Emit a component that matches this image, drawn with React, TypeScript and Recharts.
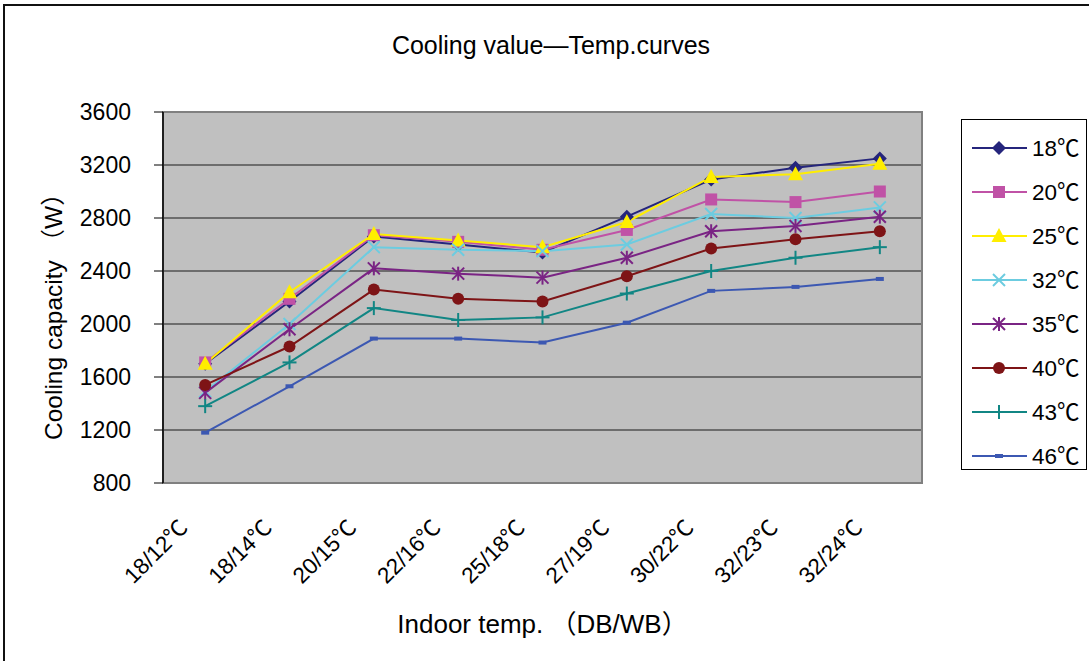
import React from 'react';
import { LineChart, Line, XAxis, YAxis, CartesianGrid, Legend, ReferenceArea } from 'recharts';

const categories = ['18/12℃', '18/14℃', '20/15℃', '22/16℃', '25/18℃', '27/19℃', '30/22℃', '32/23℃', '32/24℃'];
const s18 = [1700, 2170, 2660, 2600, 2540, 2810, 3090, 3180, 3250];
const s20 = [1710, 2190, 2670, 2620, 2560, 2710, 2940, 2920, 3000];
const s25 = [1700, 2240, 2680, 2630, 2580, 2770, 3110, 3130, 3210];
const s32 = [1490, 2000, 2580, 2560, 2550, 2600, 2830, 2800, 2880];
const s35 = [1480, 1960, 2420, 2380, 2350, 2500, 2700, 2740, 2810];
const s40 = [1540, 1830, 2260, 2190, 2170, 2360, 2570, 2640, 2700];
const s43 = [1380, 1710, 2120, 2030, 2050, 2230, 2400, 2500, 2580];
const s46 = [1180, 1530, 1890, 1890, 1860, 2010, 2250, 2280, 2340];
const yTicks = [800, 1200, 1600, 2000, 2400, 2800, 3200, 3600];
const seriesNames = ['18℃', '20℃', '25℃', '32℃', '35℃', '40℃', '43℃', '46℃'];
const seriesValues = [s18, s20, s25, s32, s35, s40, s43, s46];
const seriesColors = ['#25257C', '#C052A6', '#FFEE00', '#6CCCE0', '#7A2484', '#7E1416', '#118684', '#3C58B2'];
const seriesShapes = ['diamond', 'square', 'triangle', 'x', 'star', 'circle', 'plus', 'dash'];

const titleText = 'Cooling value—Temp.curves';
const xTitle = 'Indoor temp. （DB/WB）';
const yTitle = 'Cooling capacity （W）';

const xCenters = categories.map((_, i) => i + 0.5);
const xBounds = categories.map((_, i) => i).concat([categories.length]);

const rows = categories.map((c, i) => {
  const r: any = { x: xCenters[i], name: c };
  seriesValues.forEach((vals, k) => {
    r['s' + k] = vals[i];
  });
  return r;
});

const FONT = "'Liberation Sans', Arial, 'Noto Sans CJK SC', sans-serif";

function Marker({ cx, cy, shape, color }: { cx: number; cy: number; shape: string; color: string }) {
  if (cx == null || cy == null) return null;
  switch (shape) {
    case 'diamond':
      return <path d={`M${cx},${cy - 7} L${cx + 7},${cy} L${cx},${cy + 7} L${cx - 7},${cy} Z`} fill={color} />;
    case 'square':
      return <rect x={cx - 6} y={cy - 6} width={12} height={12} fill={color} />;
    case 'triangle':
      return <path d={`M${cx},${cy - 8} L${cx + 7.5},${cy + 6} L${cx - 7.5},${cy + 6} Z`} fill={color} />;
    case 'x':
      return (
        <g stroke={color} strokeWidth={2}>
          <line x1={cx - 6} y1={cy - 6} x2={cx + 6} y2={cy + 6} />
          <line x1={cx - 6} y1={cy + 6} x2={cx + 6} y2={cy - 6} />
        </g>
      );
    case 'star':
      return (
        <g stroke={color} strokeWidth={2}>
          <line x1={cx - 6} y1={cy - 6} x2={cx + 6} y2={cy + 6} />
          <line x1={cx - 6} y1={cy + 6} x2={cx + 6} y2={cy - 6} />
          <line x1={cx} y1={cy - 7} x2={cx} y2={cy + 7} />
        </g>
      );
    case 'circle':
      return <circle cx={cx} cy={cy} r={6} fill={color} />;
    case 'plus':
      return (
        <g stroke={color} strokeWidth={2}>
          <line x1={cx - 7} y1={cy} x2={cx + 7} y2={cy} />
          <line x1={cx} y1={cy - 7} x2={cx} y2={cy + 7} />
        </g>
      );
    case 'dash':
      return <rect x={cx - 4} y={cy - 2} width={8} height={4} fill={color} />;
    default:
      return null;
  }
}

const XTick = (props: any) => {
  const { x, y, payload } = props;
  const idx = Math.floor(payload.value);
  const tx = x - 16;
  const ty = y + 46;
  return (
    <text
      x={tx}
      y={ty}
      textAnchor="end"
      fontSize={22.5}
      fontFamily={FONT}
      fill="#000"
      transform={`rotate(-45, ${tx}, ${ty})`}
    >
      {categories[idx]}
    </text>
  );
};

const YTitle = (props: any) => {
  const vb = props.viewBox || { x: 0 };
  const tx = vb.x + 62;
  const ty = 440;
  return (
    <text
      x={tx}
      y={ty}
      textAnchor="start"
      fontSize={24.5}
      fontFamily={FONT}
      fill="#000"
      transform={`rotate(-90, ${tx}, ${ty})`}
    >
      {yTitle}
    </text>
  );
};

const renderLegend = () => (
  <div
    style={{
      width: 124,
      height: 349,
      border: '1px solid #000',
      background: '#fff',
      boxSizing: 'content-box',
    }}
  >
    <svg width={124} height={349}>
      {seriesNames.map((n, i) => {
        const cy = 28 + i * 44;
        return (
          <g key={n}>
            <line x1={10} x2={65} y1={cy} y2={cy} stroke={seriesColors[i]} strokeWidth={2} />
            <Marker cx={37} cy={cy} shape={seriesShapes[i]} color={seriesColors[i]} />
            <text x={70} y={cy + 8} fontSize={22.5} fontFamily={FONT} fill="#000">
              {n}
            </text>
          </g>
        );
      })}
    </svg>
  </div>
);

export default function App() {
  return (
    <div style={{ position: 'absolute', left: 0, top: 0, width: 1089, height: 661, background: '#fff', fontFamily: FONT }}>
      <div
        style={{
          position: 'absolute',
          left: 3,
          top: 4,
          width: 1100,
          height: 700,
          borderLeft: '2px solid #111',
          borderTop: '2px solid #111',
        }}
      />
      <div
        style={{
          position: 'absolute',
          left: 0,
          width: 1102,
          top: 31,
          textAlign: 'center',
          fontSize: 25,
          color: '#000',
        }}
      >
        {titleText}
      </div>
      <LineChart
        width={1089}
        height={661}
        data={rows}
        margin={{ top: 112, right: 167, left: 0, bottom: 0 }}
        style={{ position: 'absolute', left: 0, top: 0 }}
      >
        <CartesianGrid
          xAxisId="lab"
          vertical={false}
          fill="#C0C0C0"
          fillOpacity={1}
          stroke="#1a1a1a"
          strokeOpacity={1}
        />
        <XAxis
          xAxisId="bnd"
          type="number"
          dataKey="x"
          domain={[0, categories.length]}
          ticks={xBounds}
          allowDataOverflow
          height={0}
          tick={false}
          tickSize={-8}
          axisLine={{ stroke: '#000', strokeWidth: 1.5 }}
          tickLine={{ stroke: '#000' }}
        />
        <XAxis
          xAxisId="lab"
          type="number"
          dataKey="x"
          domain={[0, categories.length]}
          ticks={xCenters}
          allowDataOverflow
          height={178}
          axisLine={false}
          tickLine={false}
          tickSize={0}
          tickMargin={0}
          interval={0}
          tick={<XTick />}
          label={{
            value: xTitle,
            position: 'insideBottom',
            offset: 28,
            fontSize: 26,
            fontFamily: FONT,
            fill: '#000',
          }}
        />
        <YAxis
          type="number"
          domain={[800, 3600]}
          ticks={yTicks}
          interval={0}
          width={163}
          tickSize={9}
          tickMargin={23}
          axisLine={{ stroke: '#000', strokeWidth: 1.5 }}
          tickLine={{ stroke: '#000' }}
          tick={{ fontSize: 23, fontFamily: FONT, fill: '#000' }}
          label={<YTitle />}
        />
        <ReferenceArea
          xAxisId="lab"
          x1={0}
          x2={categories.length}
          y1={800}
          y2={3600}
          fill="none"
          stroke="#808080"
          strokeWidth={2}
        />
        {seriesNames.map((n, k) => (
          <Line
            key={n}
            xAxisId="lab"
            type="linear"
            dataKey={'s' + k}
            name={n}
            stroke={seriesColors[k]}
            strokeWidth={2}
            isAnimationActive={false}
            dot={(p: any) => <Marker key={`d${k}-${p.index}`} cx={p.cx} cy={p.cy} shape={seriesShapes[k]} color={seriesColors[k]} />}
            activeDot={false}
          />
        ))}
        <Legend
          layout="vertical"
          align="center"
          verticalAlign="middle"
          content={renderLegend}
          wrapperStyle={{ position: 'absolute', left: 961, top: 119, width: 126, height: 351 }}
        />
      </LineChart>
    </div>
  );
}
